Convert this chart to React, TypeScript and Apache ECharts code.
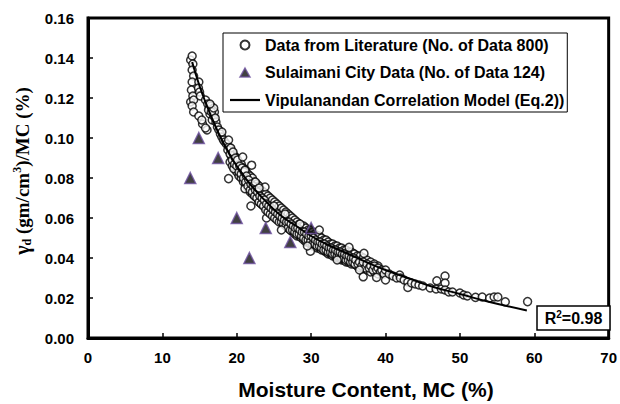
import React, { useEffect, useRef } from "react";
import * as echarts from "echarts";

// Literature data (moisture content %, gamma_d/MC)
const literaturePoints: number[][] = [
  [13.8, 0.139], [14.0, 0.141], [14.1, 0.137], [14.0, 0.134], [14.2, 0.131], [14.0, 0.128], [13.9, 0.124], [14.1, 0.121], [13.8, 0.118], [14.2, 0.119], [14.0, 0.116], [14.2, 0.113],
  [14.9, 0.128], [14.85, 0.125], [15.0, 0.123], [15.1, 0.121], [14.9, 0.111], [15.4, 0.107], [15.3, 0.109], [16.0, 0.104], [15.8, 0.105],
  [15.8, 0.119], [16.1, 0.117], [16.3, 0.115], [16.5, 0.116], [16.7, 0.114], [16.4, 0.112], [16.7, 0.109], [16.9, 0.111], [17.2, 0.108], [17.4, 0.1055], [17.0, 0.113],
  [16.2, 0.114], [16.6, 0.113], [16.9, 0.115], [16.4, 0.117], [17.1, 0.110],
  [17.6, 0.104], [17.8, 0.102], [18.0, 0.1005], [18.2, 0.099], [18.4, 0.098], [18.0, 0.103], [18.6, 0.097], [18.9, 0.0955], [18.8, 0.094], [18.9, 0.099],
  [19.1, 0.092], [19.2, 0.095], [19.4, 0.089], [19.5, 0.093], [19.6, 0.0847], [19.7, 0.087], [19.8, 0.090], [20.0, 0.086], [20.1, 0.089], [20.3, 0.083],
  [20.4, 0.086], [20.6, 0.082], [20.7, 0.085], [20.8, 0.0905], [20.9, 0.080], [21.0, 0.083], [21.1, 0.0839], [18.9, 0.0797], [22.0, 0.0864], [21.1, 0.0747],
  [21.2, 0.078], [21.3, 0.081], [21.5, 0.076], [21.6, 0.079], [21.8, 0.074], [21.9, 0.077], [22.1, 0.073], [22.2, 0.076], [22.4, 0.071], [22.5, 0.074],
  [22.7, 0.070], [22.8, 0.073], [23.0, 0.068], [23.1, 0.071], [23.3, 0.067], [23.4, 0.070], [23.6, 0.066], [23.7, 0.069], [23.9, 0.064], [24.0, 0.067],
  [23.8, 0.0755], [21.9, 0.066], [24.0, 0.060], [22.5, 0.078], [23.0, 0.075],
  [24.2, 0.063], [24.3, 0.066], [24.5, 0.062], [24.6, 0.065], [24.8, 0.061], [24.9, 0.064], [25.1, 0.060], [25.2, 0.063], [25.4, 0.059], [25.5, 0.062],
  [25.7, 0.058], [25.8, 0.061], [26.0, 0.058], [26.1, 0.060], [26.3, 0.057], [26.4, 0.059], [26.6, 0.056], [26.7, 0.058], [26.9, 0.055], [27.0, 0.058],
  [27.2, 0.054], [27.3, 0.057], [27.5, 0.054], [27.6, 0.056], [27.8, 0.053], [27.9, 0.055], [26.0, 0.054], [25.0, 0.066], [26.5, 0.062],
  [28.1, 0.052], [28.2, 0.055], [28.4, 0.052], [28.5, 0.054], [28.7, 0.051], [28.8, 0.053], [29.0, 0.050], [29.1, 0.053], [29.3, 0.049], [29.4, 0.052],
  [29.6, 0.049], [29.7, 0.051], [29.9, 0.048], [30.0, 0.051], [30.2, 0.047], [30.3, 0.050], [30.5, 0.047], [30.6, 0.049], [30.8, 0.046], [30.9, 0.048],
  [31.1, 0.046], [31.2, 0.048], [31.4, 0.045], [31.5, 0.047], [31.7, 0.044], [31.8, 0.047], [31.1, 0.054], [29.9, 0.0434], [28.5, 0.057], [29.5, 0.046],
  [32.0, 0.044], [32.1, 0.046], [32.3, 0.043], [32.4, 0.045], [32.6, 0.043], [32.7, 0.045], [32.9, 0.042], [33.0, 0.044], [33.2, 0.042], [33.3, 0.044],
  [33.5, 0.041], [33.6, 0.043], [33.8, 0.041], [33.9, 0.043], [34.1, 0.040], [34.2, 0.042], [34.4, 0.040], [34.5, 0.042], [34.7, 0.039], [34.8, 0.041],
  [35.0, 0.039], [35.1, 0.041], [35.3, 0.038], [35.4, 0.040], [35.6, 0.038], [35.7, 0.040], [35.9, 0.037], [35.1, 0.0453], [37.1, 0.0423], [33.5, 0.039],
  [36.0, 0.039], [36.3, 0.037], [36.5, 0.038], [36.8, 0.036], [37.0, 0.038], [37.3, 0.035], [37.5, 0.037], [37.8, 0.035], [38.0, 0.036], [38.3, 0.034],
  [38.5, 0.036], [38.8, 0.034], [39.0, 0.035], [39.3, 0.033], [39.5, 0.034], [39.8, 0.032], [40.0, 0.034], [37.0, 0.0306], [38.8, 0.0303], [36.5, 0.034],
  [40.0, 0.029], [40.5, 0.032], [41.0, 0.031], [41.5, 0.030], [41.9, 0.0315], [42.0, 0.030], [42.5, 0.029], [43.0, 0.028], [43.0, 0.0253], [43.5, 0.0275],
  [44.0, 0.027], [44.5, 0.0265], [45.0, 0.026], [46.0, 0.025], [46.8, 0.0245], [46.9, 0.0286], [47.5, 0.0245], [48.0, 0.031], [48.0, 0.0275], [48.0, 0.024],
  [48.5, 0.023], [49.0, 0.023], [50.0, 0.0225], [50.5, 0.0215], [51.0, 0.021], [52.1, 0.0203], [53.0, 0.0205], [54.0, 0.020], [54.6, 0.0205], [55.1, 0.0205],
  [56.1, 0.0181], [59.1, 0.0182]
];

// Densely overlapping part of the literature band: edges
const literatureDense: number[][] = [
  [19.1, 0.095], [19.1, 0.088], [19.4, 0.093], [19.4, 0.086], [19.7, 0.091], [19.7, 0.085], [20.0, 0.090], [20.0, 0.083],
  [20.3, 0.088], [20.3, 0.081], [20.6, 0.087], [20.6, 0.080], [20.9, 0.085], [20.9, 0.078], [21.2, 0.084], [21.2, 0.077],
  [21.5, 0.082], [21.5, 0.075], [21.8, 0.081], [21.8, 0.073], [22.1, 0.080], [22.1, 0.072], [22.4, 0.078], [22.4, 0.071],
  [22.7, 0.077], [22.7, 0.070], [23.0, 0.076], [23.0, 0.068], [23.3, 0.074], [23.3, 0.067], [23.6, 0.073], [23.6, 0.066],
  [23.9, 0.072], [23.9, 0.065], [24.2, 0.071], [24.2, 0.064], [24.5, 0.070], [24.5, 0.063], [24.8, 0.069], [24.8, 0.062],
  [25.1, 0.068], [25.1, 0.061], [25.4, 0.067], [25.4, 0.060], [25.7, 0.066], [25.7, 0.059], [26.0, 0.065], [26.0, 0.058],
  [26.3, 0.064], [26.3, 0.057], [26.6, 0.063], [26.6, 0.056], [26.9, 0.062], [26.9, 0.055], [27.2, 0.061], [27.2, 0.054],
  [27.5, 0.060], [27.5, 0.053], [27.8, 0.059], [27.8, 0.052], [28.1, 0.058], [28.1, 0.051], [28.4, 0.057], [28.4, 0.051],
  [28.7, 0.056], [28.7, 0.050], [29.0, 0.056], [29.0, 0.049], [29.3, 0.055], [29.3, 0.048], [29.6, 0.054], [29.6, 0.048],
  [29.9, 0.054], [29.9, 0.047], [30.2, 0.053], [30.2, 0.046], [30.5, 0.052], [30.5, 0.046], [30.8, 0.051], [30.8, 0.045],
  [31.1, 0.051], [31.1, 0.045], [31.4, 0.050], [31.4, 0.044], [31.7, 0.049], [31.7, 0.044], [32.0, 0.049], [32.0, 0.043],
  [32.3, 0.048], [32.3, 0.042], [32.6, 0.047], [32.6, 0.042], [32.9, 0.047], [32.9, 0.041], [33.2, 0.046], [33.2, 0.041],
  [33.5, 0.046], [33.5, 0.040], [33.8, 0.045], [33.8, 0.040], [34.1, 0.045], [34.1, 0.039], [34.4, 0.044], [34.4, 0.039],
  [34.7, 0.044], [34.7, 0.038], [35.0, 0.043], [35.0, 0.038], [35.4, 0.043], [35.4, 0.037], [35.8, 0.042], [35.8, 0.037],
  [36.2, 0.041], [36.2, 0.036], [36.6, 0.041], [36.6, 0.035], [37.0, 0.040], [37.0, 0.035], [37.5, 0.039], [37.5, 0.034],
  [38.0, 0.038], [38.0, 0.033], [38.5, 0.037], [38.5, 0.033], [39.0, 0.036], [39.0, 0.032]
];

// Densely overlapping part of the literature band: core
const literatureCore: number[][] = [
  [19.25, 0.091], [19.55, 0.089], [19.85, 0.087], [20.15, 0.085], [20.45, 0.084], [20.75, 0.082], [21.05, 0.081], [21.35, 0.079],
  [21.65, 0.078], [21.95, 0.077], [22.25, 0.075], [22.55, 0.074], [22.85, 0.073], [23.15, 0.072], [23.45, 0.071], [23.75, 0.069],
  [24.05, 0.068], [24.35, 0.067], [24.65, 0.066], [24.95, 0.065], [25.25, 0.064], [25.55, 0.063], [25.85, 0.062], [26.15, 0.061],
  [26.45, 0.060], [26.75, 0.059], [27.05, 0.058], [27.35, 0.057], [27.65, 0.056], [27.95, 0.056], [28.25, 0.055], [28.55, 0.054],
  [28.85, 0.053], [29.15, 0.052], [29.45, 0.052], [29.75, 0.051], [30.05, 0.050], [30.35, 0.049], [30.65, 0.049], [30.95, 0.048],
  [31.25, 0.047], [31.55, 0.047], [31.85, 0.046], [32.15, 0.046], [32.45, 0.045], [32.75, 0.044], [33.05, 0.044], [33.35, 0.043],
  [33.65, 0.043], [33.95, 0.042], [34.25, 0.042], [34.55, 0.041], [34.85, 0.041], [35.2, 0.040], [35.6, 0.040], [36.0, 0.039],
  [36.4, 0.038], [36.8, 0.038], [37.25, 0.037], [37.75, 0.036], [38.25, 0.035], [38.75, 0.034]
];

// Upper and lower middle rows of the band
const literatureUpperMid: number[][] = [
  [19.4, 0.0925], [19.7, 0.0905], [20.0, 0.0885], [20.3, 0.087], [20.6, 0.0855], [20.9, 0.084], [21.2, 0.0825], [21.5, 0.081],
  [21.8, 0.080], [22.1, 0.0785], [22.4, 0.077], [22.7, 0.076], [23.0, 0.075], [23.3, 0.0735], [23.6, 0.0725], [23.9, 0.071],
  [24.2, 0.070], [24.5, 0.069], [24.8, 0.068], [25.1, 0.067], [25.4, 0.066], [25.7, 0.065], [26.0, 0.064], [26.3, 0.063],
  [26.6, 0.062], [26.9, 0.061], [27.2, 0.060], [27.5, 0.059], [27.8, 0.0585], [28.1, 0.0575], [28.4, 0.0565], [28.7, 0.0555],
  [29.0, 0.055], [29.3, 0.054], [29.6, 0.0535], [29.9, 0.053], [30.2, 0.052], [30.5, 0.0515], [30.8, 0.051], [31.1, 0.050],
  [31.4, 0.0495], [31.7, 0.049], [32.0, 0.0485], [32.3, 0.0475], [32.6, 0.047], [32.9, 0.0465], [33.2, 0.046], [33.5, 0.0455],
  [33.8, 0.045], [34.1, 0.0445], [34.4, 0.044], [34.7, 0.0435], [35.0, 0.043], [35.4, 0.0425], [35.8, 0.042], [36.2, 0.041],
  [36.6, 0.0405], [37.0, 0.040]
];
const literatureLowerMid: number[][] = [
  [19.4, 0.0875], [19.7, 0.0855], [20.0, 0.0835], [20.3, 0.082], [20.6, 0.0805], [20.9, 0.079], [21.2, 0.0775], [21.5, 0.076],
  [21.8, 0.075], [22.1, 0.0735], [22.4, 0.072], [22.7, 0.071], [23.0, 0.070], [23.3, 0.0685], [23.6, 0.0675], [23.9, 0.066],
  [24.2, 0.065], [24.5, 0.064], [24.8, 0.063], [25.1, 0.062], [25.4, 0.061], [25.7, 0.060], [26.0, 0.059], [26.3, 0.058],
  [26.6, 0.057], [26.9, 0.056], [27.2, 0.055], [27.5, 0.054], [27.8, 0.0535], [28.1, 0.0525], [28.4, 0.0515], [28.7, 0.0505],
  [29.0, 0.050], [29.3, 0.049], [29.6, 0.0485], [29.9, 0.048], [30.2, 0.047], [30.5, 0.0465], [30.8, 0.046], [31.1, 0.045],
  [31.4, 0.0445], [31.7, 0.044], [32.0, 0.0435], [32.3, 0.0425], [32.6, 0.042], [32.9, 0.0415], [33.2, 0.041], [33.5, 0.0405],
  [33.8, 0.040], [34.1, 0.0395], [34.4, 0.039], [34.7, 0.0385], [35.0, 0.038], [35.4, 0.0375], [35.8, 0.037], [36.2, 0.036],
  [36.6, 0.0355], [37.0, 0.035]
];

// Sulaimani City data
const sulaimaniMC: number[] = [13.75, 14.9, 17.5, 20.0, 21.7, 23.9, 27.2, 30.0];
const sulaimaniRatio: number[] = [0.080, 0.100, 0.090, 0.060, 0.040, 0.055, 0.048, 0.055];

// Vipulanandan correlation model curve
const modelMC: number[] = [14, 15, 16, 17, 18, 19, 20, 22, 24, 26, 28, 30, 32, 35, 38, 40, 43, 46, 50, 54, 59];
const modelRatio: number[] = [0.138, 0.126, 0.116, 0.107, 0.099, 0.092, 0.086, 0.076, 0.068, 0.061, 0.056, 0.051, 0.047, 0.042, 0.037, 0.034, 0.030, 0.026, 0.022, 0.018, 0.0138];

const xTicks = { min: 0, max: 70, interval: 10 };
const yTicks = { min: 0, max: 0.16, interval: 0.02 };

const seriesNames = [
  "Data from Literature (No. of Data 800)",
  "Sulaimani City Data (No. of Data 124)",
  "Vipulanandan Correlation Model (Eq.2))",
];

export default function App() {
  const ref = useRef<HTMLDivElement>(null);
  useEffect(() => {
    if (!ref.current) return;
    const chart = echarts.init(ref.current, undefined, { renderer: "svg" });
    const font = "Arial, 'Liberation Sans', sans-serif";
    const serif = "'Times New Roman', 'Liberation Serif', serif";
    const litStyle = { color: "#fff", borderColor: "#000", borderWidth: 1.5 };
    const triStyle = { color: "#111", borderColor: "#6b4f9e", borderWidth: 1.5 };
    chart.setOption({
      animation: false,
      backgroundColor: "#fff",
      grid: {
        left: 88,
        right: 6,
        top: 18,
        bottom: 66,
        show: true,
        borderColor: "#000",
        borderWidth: 3,
      },
      legend: {
        orient: "vertical",
        left: 223,
        top: 33,
        data: [
          { name: seriesNames[0], icon: "circle" },
          { name: seriesNames[1], icon: "path://M5,0 L10,9 L0,9 Z", itemStyle: triStyle },
          { name: seriesNames[2], icon: "path://M0,0 L30,0 L30,2.2 L0,2.2 Z", itemStyle: { color: "#000" } },
        ],
        symbolKeepAspect: true,
        borderColor: "#000",
        borderWidth: 1,
        borderRadius: 0,
        backgroundColor: "#fff",
        padding: [4, 3, 4, 7],
        itemWidth: 30,
        itemHeight: 9,
        itemGap: 11.5,
        textStyle: { fontFamily: font, fontWeight: "bold", fontSize: 16, color: "#000" },
      },
      xAxis: {
        type: "value",
        min: xTicks.min,
        max: xTicks.max,
        interval: xTicks.interval,
        axisLine: { show: true, lineStyle: { color: "#000", width: 3 } },
        axisTick: { show: true, inside: true, length: 5, lineStyle: { color: "#000", width: 1.5 } },
        axisLabel: { fontFamily: font, fontWeight: "bold", fontSize: 15, color: "#000", margin: 12 },
        splitLine: { show: false },
      },
      yAxis: {
        type: "value",
        min: yTicks.min,
        max: yTicks.max,
        interval: yTicks.interval,
        axisLine: { show: true, lineStyle: { color: "#000", width: 3 } },
        axisTick: { show: true, inside: true, length: 5, lineStyle: { color: "#000", width: 1.5 } },
        axisLabel: {
          fontFamily: font,
          fontWeight: "bold",
          fontSize: 15,
          color: "#000",
          margin: 14,
          formatter: (v: number) => v.toFixed(2),
        },
        splitLine: { show: false },
      },
      series: [
        {
          name: seriesNames[0],
          type: "scatter",
          symbol: "circle",
          symbolSize: 8,
          itemStyle: litStyle,
          data: literatureCore.concat(literatureUpperMid, literatureLowerMid, literatureDense, literaturePoints),
          z: 2,
        },
        {
          name: seriesNames[1],
          type: "scatter",
          symbol: "triangle",
          symbolSize: 11,
          itemStyle: triStyle,
          data: sulaimaniMC.map((x, i) => [x, sulaimaniRatio[i]]),
          z: 4,
        },
        {
          name: seriesNames[2],
          type: "line",
          symbol: "none",
          smooth: true,
          lineStyle: { color: "#000", width: 2 },
          itemStyle: { color: "#000" },
          data: modelMC.map((x, i) => [x, modelRatio[i]]),
          z: 3,
        },
      ],
      graphic: [
        {
          type: "rect",
          shape: { x: 537, y: 306, width: 73, height: 24 },
          style: { fill: "#fff", stroke: "#000", lineWidth: 1.5 },
          z: 10,
        },
        {
          type: "text",
          x: 573.5,
          y: 318,
          z: 11,
          style: {
            text: "{a|R}{b|2}{a|=0.98}",
            align: "center",
            verticalAlign: "middle",
            rich: {
              a: { fontFamily: font, fontWeight: "bold", fontSize: 16, color: "#000", lineHeight: 18 },
              b: { fontFamily: font, fontWeight: "bold", fontSize: 10, color: "#000", verticalAlign: "top", lineHeight: 10 },
            },
          },
        },
        {
          type: "text",
          x: 366,
          y: 389,
          style: {
            text: "Moisture Content, MC (%)",
            align: "center",
            verticalAlign: "middle",
            fontFamily: font,
            fontWeight: "bold",
            fontSize: 21,
            fill: "#000",
          },
        },
        {
          type: "text",
          x: 22,
          y: 171,
          rotation: Math.PI / 2,
          style: {
            text: "{g|γ}{s|d}{n| (gm/cm}{p|3}{n|)/MC (%)}",
            align: "center",
            verticalAlign: "middle",
            rich: {
              g: { fontFamily: serif, fontWeight: "bold", fontSize: 20, color: "#000", lineHeight: 22 },
              n: { fontFamily: serif, fontWeight: "bold", fontSize: 19, color: "#000", lineHeight: 22 },
              s: { fontFamily: serif, fontWeight: "bold", fontSize: 12, color: "#000", lineHeight: 12, verticalAlign: "bottom" },
              p: { fontFamily: serif, fontWeight: "bold", fontSize: 12, color: "#000", lineHeight: 12, verticalAlign: "top" },
            },
          },
        },
      ],
    });
    return () => chart.dispose();
  }, []);
  return <div ref={ref} style={{ width: 620, height: 404, position: "fixed", left: 0, top: 0 }} />;
}
